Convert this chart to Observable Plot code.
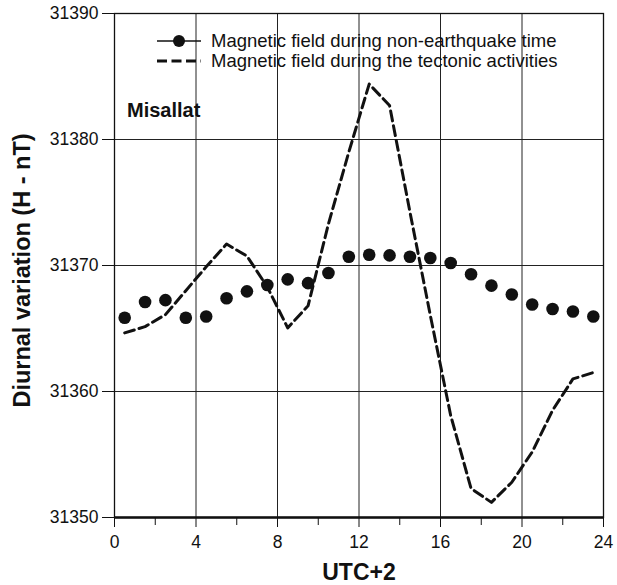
<!DOCTYPE html>
<html>
<head>
<meta charset="utf-8">
<script src="https://cdn.jsdelivr.net/npm/d3@7"></script>
<script src="https://cdn.jsdelivr.net/npm/@observablehq/plot@0.6"></script>
<style>
  html, body { margin: 0; padding: 0; background: #fff; }
  #wrap { position: relative; width: 617px; height: 585px; font-family: "Liberation Sans", Arial, sans-serif; }
  #wrap svg { display: block; }
  #legend { position: absolute; left: 0; top: 0; pointer-events: none; }
</style>
</head>
<body>
<div id="wrap"></div>
<script>
// ---- data ----
const hours = [0.5, 1.5, 2.5, 3.5, 4.5, 5.5, 6.5, 7.5, 8.5, 9.5, 10.5, 11.5,
               12.5, 13.5, 14.5, 15.5, 16.5, 17.5, 18.5, 19.5, 20.5, 21.5, 22.5, 23.5];
const nonQuake = [31365.85, 31367.1, 31367.25, 31365.85, 31365.95, 31367.4, 31367.95, 31368.45,
                  31368.9, 31368.6, 31369.4, 31370.7, 31370.85, 31370.8, 31370.7, 31370.6,
                  31370.2, 31369.3, 31368.4, 31367.7, 31366.9, 31366.55, 31366.35, 31365.95];
const tectonic = [31364.65, 31365.15, 31366.1, 31368.0, 31369.9, 31371.7, 31370.75, 31368.3,
                  31365.05, 31366.8, 31373.3, 31379.0, 31384.4, 31382.7, 31374.25, 31366.05,
                  31358.1, 31352.3, 31351.2, 31352.8, 31355.2, 31358.5, 31361.0, 31361.5];
const xTicks = [0, 4, 8, 12, 16, 20, 24];
const xMinorTicks = [2, 6, 10, 14, 18, 22];
const yTicks = [31350, 31360, 31370, 31380, 31390];
const seriesLabels = ["Magnetic field during non-earthquake time", "Magnetic field during the tectonic activities"];
const stationLabel = "Misallat";
const xLabel = "UTC+2";
const yLabel = "Diurnal variation (H - nT)";

const quakeFree = hours.map((h, i) => ({hour: h, value: nonQuake[i]}));
const active = hours.map((h, i) => ({hour: h, value: tectonic[i]}));

const ink = "#111";
const chart = Plot.plot({
  width: 617,
  height: 585,
  marginLeft: 114,
  marginRight: 14,
  marginTop: 13,
  marginBottom: 68,
  style: {fontFamily: '"Liberation Sans", Arial, sans-serif', color: ink, background: "#fff"},
  x: {domain: [0, 24]},
  y: {domain: [31350, 31390]},
  marks: [
    Plot.gridX(xTicks.slice(1, -1), {stroke: "#222", strokeOpacity: 1, strokeWidth: 1}),
    Plot.gridY(yTicks.slice(1, -1), {stroke: "#222", strokeOpacity: 1, strokeWidth: 1}),
    Plot.frame({stroke: ink, strokeWidth: 1.3}),
    Plot.ruleY([31350], {stroke: ink, strokeWidth: 2.4}),
    Plot.axisY({ticks: yTicks, tickSize: 12, tickPadding: 4, fontSize: 17.5, tickFormat: d3.format("d"), label: null, stroke: ink}),
    Plot.axisX({ticks: xTicks, tickSize: 10, tickPadding: 8, fontSize: 17.5, tickFormat: d3.format("d"), label: null, stroke: ink}),
    Plot.axisX({ticks: xMinorTicks, tickSize: 8, tickFormat: () => "", label: null, stroke: ink}),
    Plot.line(active, {x: "hour", y: "value", stroke: ink, strokeWidth: 3, strokeDasharray: "10,5"}),
    Plot.dot(quakeFree, {x: "hour", y: "value", r: 6.3, fill: ink, stroke: "none"}),
    Plot.text([xLabel], {frameAnchor: "bottom", dy: 62, lineAnchor: "bottom", fontSize: 23, fontWeight: "bold", fill: ink}),
    Plot.text([yLabel], {frameAnchor: "left", dx: -85, dy: 5, rotate: -90, lineAnchor: "bottom", textAnchor: "middle", fontSize: 23.5, fontWeight: "bold", fill: ink})
  ]
});

const wrap = document.getElementById("wrap");
wrap.appendChild(chart);

// legend + station label overlay
const ns = "http://www.w3.org/2000/svg";
const leg = document.createElementNS(ns, "svg");
leg.setAttribute("id", "legend");
leg.setAttribute("width", 617);
leg.setAttribute("height", 585);
leg.innerHTML = `
  <line x1="157" x2="201" y1="41" y2="41" stroke="${ink}" stroke-width="1.5"/>
  <circle cx="179" cy="41" r="6" fill="${ink}"/>
  <text x="211" y="47" font-size="18.5" fill="${ink}" font-family="Liberation Sans, Arial, sans-serif">${seriesLabels[0]}</text>
  <line x1="157" x2="201" y1="61" y2="61" stroke="${ink}" stroke-width="3" stroke-dasharray="10,4.5"/>
  <text x="211" y="67" font-size="18.5" fill="${ink}" font-family="Liberation Sans, Arial, sans-serif">${seriesLabels[1]}</text>
  <text x="127" y="117" font-size="20" font-weight="bold" fill="${ink}" font-family="Liberation Sans, Arial, sans-serif">${stationLabel}</text>
`;
wrap.appendChild(leg);
</script>
</body>
</html>
